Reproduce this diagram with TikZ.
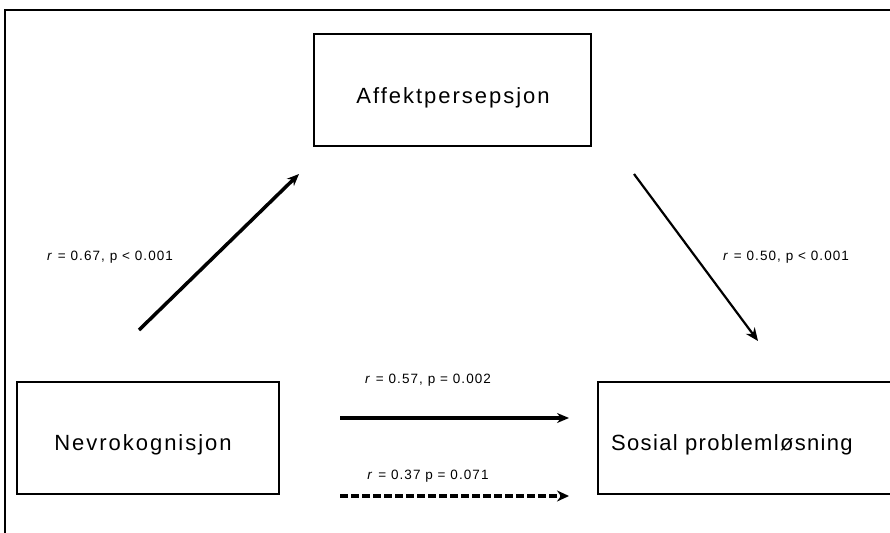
\documentclass[tikz,border=0pt]{standalone}
\usepackage{fontspec}
\setmainfont{Liberation Sans}
\newfontfamily\boxfont[LetterSpace=9]{Liberation Sans}
\newfontfamily\boxfontb[LetterSpace=6]{Liberation Sans}
\newfontfamily\labfont[LetterSpace=8]{Liberation Sans}
\usetikzlibrary{arrows.meta}
\begin{document}
\begin{tikzpicture}[x=1pt,y=-1pt,
  boxstyle/.style={draw=black,line width=1.5pt},
  boxtext/.style={anchor=base,inner sep=0pt,font=\boxfont\fontsize{22}{24}\selectfont},
  labtext/.style={anchor=base,inner sep=0pt,font=\labfont\fontsize{13.5}{15}\selectfont},
  thickarrow/.style={line width=3.5pt,-{Stealth[length=12pt,width=10pt]}},
  thinarrow/.style={line width=2.2pt,-{Stealth[length=13pt,width=11pt]}},
  dotarrow/.style={line width=4.5pt,dash pattern=on 8pt off 3pt,-{Stealth[length=12pt,width=11pt]}}]
\useasboundingbox (0,0) rectangle (890,532);
\fill[white] (0,0) rectangle (890,532);
\clip (0,0) rectangle (890,532);
% outer frame
\draw[line width=1.5pt] (5,545) -- (5,10) -- (900,10);
% boxes
\draw[boxstyle] (314,34) rectangle (591,146);
\draw[boxstyle] (17,382) rectangle (279,494);
\draw[boxstyle] (598,382) rectangle (905,494);
\node[boxtext] (affekt) at (453,103) {Affektpersepsjon};
\node[boxtext] (nevro) at (143,450) {Nevrokognisjon};
\node[boxtext,anchor=base west,font=\boxfontb\fontsize{22}{24}\selectfont] (sosial) at (611,450) {Sosial problemløsning};
% arrow endpoints
\coordinate (a1s) at (139,330);
\coordinate (a1e) at (299,174);
\coordinate (a2s) at (634,174);
\coordinate (a2e) at (758,341);
\coordinate (a3s) at (340,418);
\coordinate (a3e) at (569,418);
\coordinate (a4s) at (340,496);
\coordinate (a4e) at (569,496);
\draw[thickarrow] (a1s) -- (a1e);
\draw[thinarrow] (a2s) -- (a2e);
\draw[thickarrow] (a3s) -- (a3e);
\draw[dotarrow] (a4s) -- (a4e);
% labels
\node[labtext] (l1) at (110,260) {\textit{r} = 0.67, p < 0.001};
\node[labtext] (l2) at (786,260) {\textit{r} = 0.50, p < 0.001};
\node[labtext] (l3) at (428,383) {\textit{r} = 0.57, p = 0.002};
\node[labtext] (l4) at (428,479) {\textit{r} = 0.37 p = 0.071};
\end{tikzpicture}
\end{document}
